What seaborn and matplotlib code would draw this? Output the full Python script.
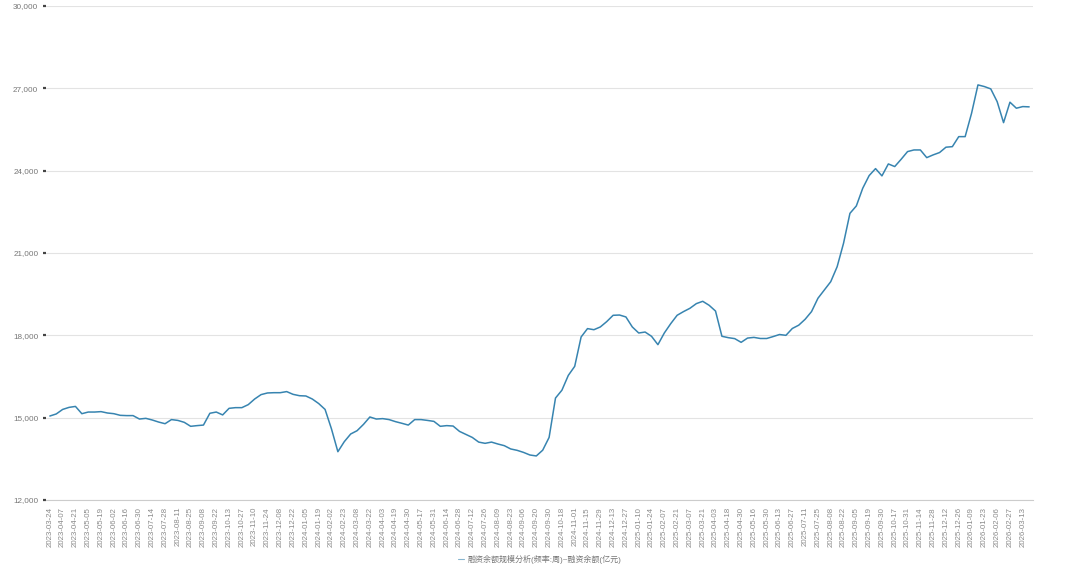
import numpy as np
import pandas as pd
import matplotlib
matplotlib.use("Agg")
import matplotlib.pyplot as plt
import seaborn as sns
from matplotlib.ticker import StrMethodFormatter

# weekly dates (category axis)
dates = [
    "2023-03-24", "2023-03-31", "2023-04-07", "2023-04-14", "2023-04-21", "2023-04-28",
    "2023-05-05", "2023-05-12", "2023-05-19", "2023-05-26", "2023-06-02", "2023-06-09",
    "2023-06-16", "2023-06-21", "2023-06-30", "2023-07-07", "2023-07-14", "2023-07-21",
    "2023-07-28", "2023-08-04", "2023-08-11", "2023-08-18", "2023-08-25", "2023-09-01",
    "2023-09-08", "2023-09-15", "2023-09-22", "2023-09-28", "2023-10-13", "2023-10-20",
    "2023-10-27", "2023-11-03", "2023-11-10", "2023-11-17", "2023-11-24", "2023-12-01",
    "2023-12-08", "2023-12-15", "2023-12-22", "2023-12-29", "2024-01-05", "2024-01-12",
    "2024-01-19", "2024-01-26", "2024-02-02", "2024-02-08", "2024-02-23", "2024-03-01",
    "2024-03-08", "2024-03-15", "2024-03-22", "2024-03-29", "2024-04-03", "2024-04-12",
    "2024-04-19", "2024-04-26", "2024-04-30", "2024-05-10", "2024-05-17", "2024-05-24",
    "2024-05-31", "2024-06-07", "2024-06-14", "2024-06-21", "2024-06-28", "2024-07-05",
    "2024-07-12", "2024-07-19", "2024-07-26", "2024-08-02", "2024-08-09", "2024-08-16",
    "2024-08-23", "2024-08-30", "2024-09-06", "2024-09-13", "2024-09-20", "2024-09-27",
    "2024-09-30", "2024-10-11", "2024-10-18", "2024-10-25", "2024-11-01", "2024-11-08",
    "2024-11-15", "2024-11-22", "2024-11-29", "2024-12-06", "2024-12-13", "2024-12-20",
    "2024-12-27", "2024-12-31", "2025-01-10", "2025-01-17", "2025-01-24", "2025-01-27",
    "2025-02-07", "2025-02-14", "2025-02-21", "2025-02-28", "2025-03-07", "2025-03-14",
    "2025-03-21", "2025-03-28", "2025-04-03", "2025-04-11", "2025-04-18", "2025-04-25",
    "2025-04-30", "2025-05-09", "2025-05-16", "2025-05-23", "2025-05-30", "2025-06-06",
    "2025-06-13", "2025-06-20", "2025-06-27", "2025-07-04", "2025-07-11", "2025-07-18",
    "2025-07-25", "2025-08-01", "2025-08-08", "2025-08-15", "2025-08-22", "2025-08-29",
    "2025-09-05", "2025-09-12", "2025-09-19", "2025-09-26", "2025-09-30", "2025-10-10",
    "2025-10-17", "2025-10-24", "2025-10-31", "2025-11-07", "2025-11-14", "2025-11-21",
    "2025-11-28", "2025-12-05", "2025-12-12", "2025-12-19", "2025-12-26", "2025-12-31",
    "2026-01-09", "2026-01-16", "2026-01-23", "2026-01-30", "2026-02-06", "2026-02-13",
    "2026-02-27", "2026-03-06", "2026-03-13", "2026-03-20",
]

# 融资余额 (亿元)
balance = [
    15060, 15135, 15300, 15375, 15410, 15145, 15205, 15205, 15220, 15170,
    15145, 15085, 15075, 15075, 14950, 14975, 14915, 14840, 14780, 14930,
    14900, 14830, 14685, 14710, 14730, 15160, 15205, 15100, 15340, 15365,
    15365, 15475, 15680, 15840, 15900, 15910, 15910, 15950, 15850, 15800,
    15790, 15680, 15515, 15300, 14590, 13760, 14125, 14405, 14525, 14755,
    15025, 14950, 14965, 14930, 14855, 14795, 14730, 14930, 14930, 14900,
    14865, 14685, 14710, 14695, 14500, 14390, 14280, 14110, 14065, 14110,
    14040, 13980, 13860, 13810, 13735, 13640, 13605, 13815, 14280, 15715,
    16000, 16540, 16870, 17940, 18245, 18205, 18305, 18500, 18730, 18740,
    18670, 18305, 18085, 18120, 17965, 17660, 18085, 18425, 18730, 18865,
    18985, 19155, 19240, 19095, 18885, 17965, 17915, 17880, 17745, 17900,
    17925, 17885, 17885, 17955, 18030, 18000, 18250, 18370, 18585, 18865,
    19350, 19650, 19955, 20500, 21355, 22445, 22715, 23360, 23820, 24075,
    23810, 24245, 24150, 24415, 24695, 24755, 24755, 24475, 24575, 24660,
    24855, 24875, 25240, 25240, 26090, 27125, 27065, 26980, 26515, 25750,
    26495, 26275, 26335, 26325,
]

y_ticks = [12000, 15000, 18000, 21000, 24000, 27000, 30000]
series_name = "融资余额规模分析(频率:周)~融资余额(亿元)"

df = pd.DataFrame({"date": dates, "value": balance})
df["pos"] = np.arange(len(df))

sns.set_style("white")
plt.rcParams["font.family"] = ["Liberation Sans", "Noto Sans CJK SC", "DejaVu Sans"]

fig = plt.figure(figsize=(10.8, 5.68), dpi=100)
ax = fig.add_axes([46 / 1080, 1 - 500 / 568, 987 / 1080, 494 / 568])

line_color = "#3784b0"
sns.lineplot(data=df, x="pos", y="value", ax=ax, color=line_color,
             linewidth=1.1, label=series_name, legend=False)

ax.set_ylim(12000, 30000)
ax.set_xlim(-0.6, len(dates) - 0.4)
ax.set_yticks(y_ticks)
ax.yaxis.set_major_formatter(StrMethodFormatter("{x:,.0f}"))
ax.grid(axis="y", color="#e3e3e3", linewidth=0.8)
ax.grid(axis="x", visible=False)

ax.set_xticks(df["pos"][::2])
ax.set_xticklabels(df["date"][::2], rotation=90)
ax.set_xlabel("")
ax.set_ylabel("")

for s in ["top", "right", "left"]:
    ax.spines[s].set_visible(False)
ax.spines["bottom"].set_color("#cccccc")
ax.spines["bottom"].set_linewidth(0.8)

ax.tick_params(axis="x", labelsize=5.7, colors="#8a8a8a", length=3, width=0.6,
               color="#bbbbbb", pad=2)
ax.tick_params(axis="y", labelsize=5.9, labelcolor="#777777", length=2.5, width=1.6,
               color="#444444", pad=3, left=True)

handles, labels = ax.get_legend_handles_labels()
leg = fig.legend(handles, labels, loc="center", bbox_to_anchor=(0.5, 1 - 559 / 568),
                 frameon=False, fontsize=5.8, handlelength=0.7, handletextpad=0.5)
for t in leg.get_texts():
    t.set_color("#777777")
for h in leg.get_lines():
    h.set_linewidth(0.8)
    h.set_alpha(0.6)

fig.savefig("out.png", dpi=100)
